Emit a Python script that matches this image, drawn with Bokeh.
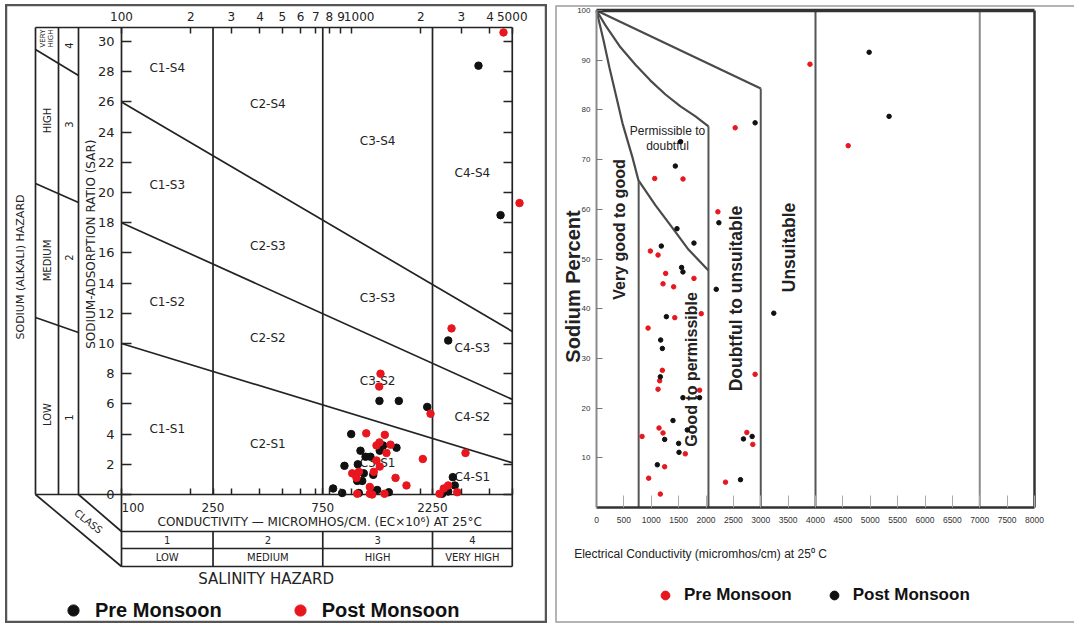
import math
import numpy as np
from bokeh.plotting import figure
from bokeh.models import Range1d, LinearAxis, LogAxis, FixedTicker, Legend, LegendItem, Spacer
from bokeh.layouts import row, column
from bokeh.embed import file_html
from bokeh.resources import INLINE
from bokeh.core.properties import value

# ======================= DATA =======================
# ---- Left panel: USSL (Richards) salinity / sodium hazard diagram ----
ussl_pre_ec = [3565, 4447, 2633, 1323, 1606, 2134, 997, 1373, 1569, 1327,
               1094, 1151, 1209, 932, 1065, 1131, 1243, 1059, 1113, 832,
               911, 1076, 1293, 1453, 1218, 2757, 2812, 2480, 2633]
ussl_pre_sar = [28.4, 18.5, 10.2, 6.2, 6.2, 5.8, 4.0, 3.25, 3.1, 2.9,
                2.9, 2.5, 2.5, 1.9, 2.0, 1.4, 1.3, 0.9, 0.9, 0.4,
                0.1, 0.1, 0.3, 0.15, 0.05, 1.15, 0.6, 0.05, 0.2]
ussl_post_ec = [4580, 5376, 2722, 1337, 1320, 2206, 1159, 1396, 1323, 1478,
                1284, 1419, 3131, 2042, 1284, 1327, 1554, 1734, 1007, 1076,
                1250, 1051, 1201, 1059, 1201, 1230, 1392, 2519, 2633, 2882, 2414]
ussl_post_sar = [30.6, 19.3, 11.0, 8.0, 7.15, 5.35, 4.05, 3.95, 3.45, 3.3,
                 3.25, 2.75, 2.75, 2.35, 2.25, 1.85, 1.1, 0.6, 1.4, 1.5,
                 1.5, 1.1, 0.5, 0.05, 0.05, 0.0, 0.05, 0.4, 0.6, 0.15, 0.05]

salinity_bounds = [100, 250, 750, 2250, 5000]
salinity_class = ["1", "2", "3", "4"]
salinity_names = ["LOW", "MEDIUM", "HIGH", "VERY HIGH"]
sodium_sar_at_100 = [10, 18, 26]
sodium_sar_at_5000 = [2.1, 6.3, 10.8]
sar_ticks = list(range(0, 31, 2))
top_ec_ticks = [100, 200, 300, 400, 500, 600, 700, 800, 900, 1000, 2000, 3000, 4000, 5000]
top_ec_labels = ["100", "2", "3", "4", "5", "6", "7", "8", "9", "1000", "2", "3", "4", "5000"]
bottom_ec_label_values = [100, 250, 750, 2250]
zone_rows = ["S4", "S3", "S2", "S1"]
zone_cols = ["C1", "C2", "C3", "C4"]
sodium_names = ["VERY\nHIGH", "HIGH", "MEDIUM", "LOW"]
sodium_class = ["4", "3", "2", "1"]

# ---- Right panel: Wilcox diagram ----
wil_pre_ec = [3899, 2533, 1063, 1580, 2217, 984, 1124, 1263, 1780, 1215,
              1409, 1430, 1913, 942, 1203, 1154, 1124, 1883, 1142, 1215,
              832, 1622, 1245, 953, 1166, 2356, 2746, 2855, 2897, 4597]
wil_pre_na = [89.2, 76.4, 66.2, 66.1, 59.5, 51.6, 50.8, 47.1, 46.1, 45.0,
              44.4, 38.2, 39.0, 36.1, 27.6, 25.5, 23.8, 23.6, 16.0, 15.0,
              14.3, 10.8, 8.2, 5.9, 2.7, 5.1, 15.1, 12.7, 26.8, 72.8]
wil_post_ec = [2897, 1536, 1440, 2235, 1470, 1184, 1780, 1554, 1579, 2187,
               1276, 3238, 1172, 1203, 1166, 1579, 1883, 1397, 1658, 1245,
               1500, 1507, 1111, 2630, 2684, 2843, 4980, 5344]
wil_post_na = [77.4, 73.6, 68.7, 57.3, 56.1, 52.6, 53.2, 48.3, 47.4, 43.9,
               38.4, 39.1, 33.7, 32.0, 26.3, 22.1, 22.1, 17.5, 15.6, 13.7,
               12.9, 11.1, 8.6, 5.6, 13.8, 14.3, 91.6, 78.7]

wil_curve1_ec = [0, 128, 237, 365, 475, 658, 767, 1078, 1370, 1680, 2045]
wil_curve1_na = [100, 94.0, 88.5, 82.5, 77.3, 70.4, 65.8, 60.8, 56.5, 51.9, 47.7]
wil_curve2_ec = [0, 164, 438, 712, 986, 1260, 1534, 1808, 2045]
wil_curve2_na = [100, 97.0, 92.6, 89.1, 85.9, 83.1, 80.7, 78.7, 76.7]
wil_line3_ec = [0, 3000]
wil_line3_na = [100, 84.3]
wil_class_lines = [770, 2045, 3000, 4000, 7000]
wil_x_max = 8000
wil_x_ticks = list(range(0, 8001, 500))
wil_y_ticks = list(range(10, 101, 10))

PRE_BLACK = "#111111"
POST_RED = "#e8161e"
INK = "#232323"

# page placement of the two panels (left, top, width, height)
L_BOX = (5, 4, 542, 619)
R_BOX = (554, 4, 520, 619)

# ======================= LEFT PANEL =======================
def lx(px):
    return 10 ** (2 + (px - 121) / 230.0)

def ly(py):
    return (494 - py) / 15.1

x0, y0, w, h = L_BOX
p1 = figure(width=w, height=h, x_axis_type="log", x_axis_location=None, y_axis_location=None,
            x_range=Range1d(lx(x0), lx(x0 + w)), y_range=Range1d(ly(y0 + h), ly(y0)),
            toolbar_location=None, output_backend="svg", min_border=0, title=None)
p1.xgrid.visible = False
p1.ygrid.visible = False
p1.outline_line_color = "#555555"
p1.outline_line_width = 3.5
p1.background_fill_color = "white"
p1.border_fill_color = "white"

EC_MIN, EC_MAX = salinity_bounds[0], salinity_bounds[-1]
SAR_TOP = ly(27)
ROW1, ROW2, ROW3 = ly(531), ly(548), ly(566)
side_x = [lx(35), lx(58), lx(78)]

lxs, lys = [], []
def seg(xa, ya, xb, yb):
    lxs.append([xa, xb]); lys.append([ya, yb])

seg(side_x[0], SAR_TOP, EC_MAX, SAR_TOP)
for sx in side_x:
    seg(sx, SAR_TOP, sx, 0)
seg(side_x[0], 0, EC_MAX, 0)
seg(side_x[0], 0, EC_MIN, ROW3)
seg(side_x[2], 0, EC_MIN, ROW1)
for yl, yr in [(49, 75), (183, 202), (317, 332)]:
    seg(side_x[0], ly(yl), side_x[2], ly(yr))
seg(EC_MIN, SAR_TOP, EC_MIN, ROW3)
seg(EC_MAX, SAR_TOP, EC_MAX, ROW3)
for r in (ROW1, ROW2, ROW3):
    seg(EC_MIN, r, EC_MAX, r)
for b in salinity_bounds[1:-1]:
    seg(b, 0, b, SAR_TOP)
    seg(b, ROW1, b, ROW3)
for a, b in zip(sodium_sar_at_100, sodium_sar_at_5000):
    seg(EC_MIN, a, EC_MAX, b)
p1.multi_line(lxs, lys, line_color=INK, line_width=1.7)

FONT_L = value("DejaVu Sans")

col_mid = [math.sqrt(a * b) for a, b in zip(salinity_bounds[:-1], salinity_bounds[1:])]
zone_py = [[67, 103, 140, 172], [184, 245, 297, 347], [301, 337, 380, 416], [428, 443, 462, 476]]
zx, zy, zt = [], [], []
for i, s in enumerate(zone_rows):
    for j, c in enumerate(zone_cols):
        zx.append(col_mid[j]); zy.append(ly(zone_py[i][j])); zt.append(f"{c}-{s}")
p1.text(zx, zy, zt, text_align="center", text_baseline="middle", text_font=FONT_L,
        text_font_size="12px", text_color=INK)

p1.text(col_mid, [ly(539.5)] * 4, salinity_class, text_align="center", text_baseline="middle",
        text_font=FONT_L, text_font_size="10px", text_color=INK)
p1.text(col_mid, [ly(557)] * 4, salinity_names, text_align="center", text_baseline="middle",
        text_font=FONT_L, text_font_size="10px", text_color=INK)

p1.text([lx(46), lx(47), lx(47), lx(47)], [ly(38), ly(120), ly(260), ly(414)], sodium_names,
        angle=math.pi / 2, text_align="center", text_baseline="middle", text_font=FONT_L,
        text_font_size=["7px", "10px", "10px", "10px"], text_color=INK, text_line_height=1.0)
p1.text([lx(68)] * 4, [ly(45), ly(124), ly(257), ly(417)], sodium_class,
        angle=math.pi / 2, text_align="center", text_baseline="middle", text_font=FONT_L,
        text_font_size="10px", text_color=INK)

p1.text([lx(90)], [ly(238)], ["SODIUM-ADSORPTION  RATIO   (SAR)"], angle=math.pi / 2,
        text_align="center", text_baseline="middle", text_font=FONT_L, text_font_size="12px", text_color=INK)
p1.text([lx(20)], [ly(263)], ["SODIUM  (ALKALI)  HAZARD"], angle=math.pi / 2,
        text_align="center", text_baseline="middle", text_font=FONT_L, text_font_size="11px", text_color=INK)
p1.text([lx(323)], [ly(521)], ["CONDUCTIVITY \u2014 MICROMHOS/CM.   (EC\u00d710\u2076) AT 25\u00b0C"],
        text_align="center", text_baseline="middle", text_font=FONT_L, text_font_size="12px", text_color=INK)
p1.text([lx(88)], [ly(521)], ["CLASS"], angle=-0.66, text_align="center", text_baseline="middle",
        text_font=FONT_L, text_font_size="10px", text_color=INK)
p1.text([lx(268)], [ly(578)], ["SALINITY  HAZARD"], text_align="center", text_baseline="middle",
        text_font=FONT_L, text_font_size="15px", text_color=INK)

yax = LinearAxis(fixed_location=EC_MIN, ticker=FixedTicker(ticks=sar_ticks))
yax.axis_line_color = None
yax.major_tick_in = 10
yax.major_tick_out = 0
yax.minor_tick_line_color = None
yax.major_tick_line_color = INK
yax.major_tick_line_width = 1.5
yax.major_label_standoff = 7
yax.major_label_text_font = "DejaVu Sans"
yax.major_label_text_font_size = "13px"
yax.major_label_text_color = INK
p1.add_layout(yax, "left")

# the reference prints "1000" just right of its tick; a figure-space pad reproduces that offset
FIG_SP = "\u2007"
top_overrides = dict(zip(top_ec_ticks, top_ec_labels))
top_overrides[1000] = FIG_SP * 2 + "1000"
tax = LogAxis(fixed_location=SAR_TOP, ticker=FixedTicker(ticks=top_ec_ticks),
              major_label_overrides=top_overrides)
tax.axis_line_color = None
tax.major_tick_in = 6
tax.major_tick_out = 0
tax.minor_tick_line_color = None
tax.major_tick_line_color = INK
tax.major_tick_line_width = 1.5
tax.major_label_standoff = 4
tax.major_label_text_font = "DejaVu Sans"
tax.major_label_text_font_size = "12px"
tax.major_label_text_color = INK
p1.add_layout(tax, "above")

bottom_ticks = sorted(set(top_ec_ticks + bottom_ec_label_values))
bottom_labels = {t: (str(t) if t in bottom_ec_label_values else "") for t in bottom_ticks}
bottom_labels[100] = FIG_SP * 3 + "100"
bax = LogAxis(fixed_location=0, ticker=FixedTicker(ticks=bottom_ticks), major_label_overrides=bottom_labels)
bax.axis_line_color = None
bax.major_tick_in = 6
bax.major_tick_out = 0
bax.minor_tick_line_color = None
bax.major_tick_line_color = INK
bax.major_tick_line_width = 1.5
bax.major_label_standoff = 6
bax.major_label_text_font = "DejaVu Sans"
bax.major_label_text_font_size = "12px"
bax.major_label_text_color = INK
p1.add_layout(bax, "below")

rax = LinearAxis(fixed_location=EC_MAX, ticker=FixedTicker(ticks=sar_ticks))
rax.axis_line_color = None
rax.major_tick_in = 9
rax.major_tick_out = 0
rax.minor_tick_line_color = None
rax.major_tick_line_color = INK
rax.major_tick_line_width = 1.5
rax.major_label_text_color = None
p1.add_layout(rax, "right")

r1_pre = p1.scatter(ussl_pre_ec, ussl_pre_sar, size=7.5, color=PRE_BLACK)
r1_post = p1.scatter(ussl_post_ec, ussl_post_sar, size=7.5, color=POST_RED)

leg1 = Legend(items=[LegendItem(label="Pre Monsoon", renderers=[r1_pre]),
                     LegendItem(label="Post Monsoon", renderers=[r1_post])],
              orientation="horizontal", location=(54, -1), glyph_width=28, glyph_height=28,
              label_standoff=8, spacing=64, padding=0, margin=0, border_line_color=None,
              background_fill_alpha=0, label_text_font="Liberation Sans",
              label_text_font_size="20px", label_text_font_style="bold", label_text_color="#111111")
p1.add_layout(leg1)

# ======================= RIGHT PANEL =======================
def rx(px):
    return (px - 596) / 0.05475

def ry(py):
    return (507 - py) / 4.97

x0, y0, w, h = R_BOX
p2 = figure(width=w, height=h, x_axis_location=None, y_axis_location=None,
            x_range=Range1d(rx(x0), rx(x0 + w)), y_range=Range1d(ry(y0 + h), ry(y0)),
            toolbar_location=None, output_backend="svg", min_border=0, title=None)
p2.xgrid.visible = False
p2.ygrid.visible = False
p2.outline_line_color = None
p2.background_fill_color = "white"
p2.border_fill_color = "white"

# light panel border (top, left, bottom; the right side is open in the reference)
p2.multi_line([[rx(555), rx(1080)], [rx(555.5), rx(555.5)], [rx(555), rx(1080)]],
              [[ry(5.5), ry(5.5)], [ry(5), ry(622)], [ry(621.5), ry(621.5)]],
              line_color="#b4b4b4", line_width=2)

p2.line(wil_curve1_ec, wil_curve1_na, line_color="#4a4a4a", line_width=2.2)
p2.line(wil_curve2_ec, wil_curve2_na, line_color="#4a4a4a", line_width=2.2)
p2.line(wil_line3_ec, wil_line3_na, line_color="#4a4a4a", line_width=2.2)
tops = [float(np.interp(wil_class_lines[0], wil_curve1_ec, wil_curve1_na)),
        wil_curve2_na[-1], wil_line3_na[-1], 100, 100]
vcols = ["#555555", "#555555", "#555555", "#555555", "#8a8a8a"]
p2.multi_line([[x, x] for x in wil_class_lines], [[0, t] for t in tops],
              line_color=vcols, line_width=2)
p2.line([0, wil_x_max], [100, 100], line_color="#333333", line_width=3.5)
p2.line([wil_x_max, wil_x_max], [0, 100], line_color="#333333", line_width=2.5)

wy = LinearAxis(fixed_location=0, ticker=FixedTicker(ticks=wil_y_ticks), bounds=(0, 100))
wy.axis_line_color = "#8a8a8a"
wy.axis_line_width = 2
wy.major_tick_in = 6
wy.major_tick_out = 0
wy.minor_tick_line_color = None
wy.major_tick_line_color = "#777777"
wy.major_label_standoff = 6
wy.major_label_text_font = "Liberation Sans"
wy.major_label_text_font_size = "8px"
wy.major_label_text_color = "#333333"
p2.add_layout(wy, "left")

wx = LinearAxis(fixed_location=0, ticker=FixedTicker(ticks=wil_x_ticks), bounds=(0, wil_x_max))
wx.axis_line_color = "#333333"
wx.axis_line_width = 2.5
wx.major_tick_in = 12
wx.major_tick_out = 0
wx.minor_tick_line_color = None
wx.major_tick_line_color = "#aaaaaa"
wx.major_label_standoff = 9
wx.major_label_text_font = "Liberation Sans"
wx.major_label_text_font_size = "8.5px"
wx.major_label_text_color = "#333333"
p2.add_layout(wx, "below")

FONT_R = value("Liberation Sans")
p2.text([rx(572)], [ry(286)], ["Sodium Percent"], angle=math.pi / 2, text_align="center",
        text_baseline="middle", text_font=FONT_R, text_font_style="bold", text_font_size="20px", text_color="#222222")
p2.text([rx(700)], [ry(553)], ["Electrical Conductivity (micromhos/cm) at 25\u2070 C"], text_align="center",
        text_baseline="middle", text_font=FONT_R, text_font_size="12px", text_color="#222222")
p2.text([rx(619), rx(691)], [ry(229), ry(369)],
        ["Very good to good", "Good to permissible"],
        angle=math.pi / 2, text_align="center", text_baseline="middle", text_font=FONT_R,
        text_font_style="bold", text_font_size="16px", text_color="#222222")
p2.text([rx(735), rx(788)], [ry(298), ry(247)],
        ["Doubtful to unsuitable", "Unsuitable"],
        angle=math.pi / 2, text_align="center", text_baseline="middle", text_font=FONT_R,
        text_font_style="bold", text_font_size="17.5px", text_color="#222222")
p2.text([rx(667)], [ry(138)], ["Permissible to\ndoubtful"], text_align="center", text_baseline="middle",
        text_font=FONT_R, text_font_size="12px", text_color="#222222", text_line_height=1.1)

r2_pre = p2.scatter(wil_pre_ec, wil_pre_na, size=4.5, color=POST_RED)
r2_post = p2.scatter(wil_post_ec, wil_post_na, size=4.5, color=PRE_BLACK)

leg2 = Legend(items=[LegendItem(label="Pre Monsoon", renderers=[r2_pre]),
                     LegendItem(label="Post Monsoon", renderers=[r2_post])],
              orientation="horizontal", location=(100, 17), glyph_width=22, glyph_height=22,
              label_standoff=8, spacing=31, padding=0, margin=0, border_line_color=None,
              background_fill_alpha=0, label_text_font="Liberation Sans",
              label_text_font_size="17px", label_text_font_style="bold", label_text_color="#111111")
p2.add_layout(leg2)

layout = column(Spacer(height=L_BOX[1]),
                row(Spacer(width=L_BOX[0]), p1, Spacer(width=R_BOX[0] - L_BOX[0] - L_BOX[2]), p2))
open("out.html", "w").write(file_html(layout, INLINE))
